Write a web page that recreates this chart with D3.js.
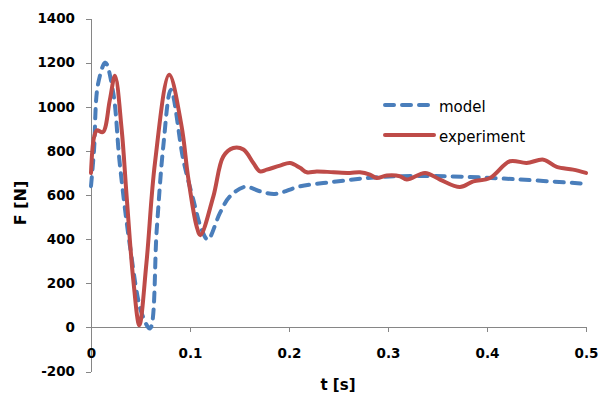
<!DOCTYPE html>
<html>
<head>
<meta charset="utf-8">
<script src="https://cdn.jsdelivr.net/npm/d3@7"></script>
<style>
  html, body { margin: 0; padding: 0; background: #fff; }
  svg { display: block; }
  .axis path, .axis line { stroke: #868686; stroke-width: 1; shape-rendering: crispEdges; }
  .axis text { font-family: "DejaVu Sans", sans-serif; font-weight: bold; font-size: 13.5px; fill: #000; }
</style>
</head>
<body>
<svg id="chart" width="599" height="397"></svg>
<script>
// Force response: simulated model vs measured experiment
const modelT = [0, 0.003, 0.007, 0.0145, 0.0225, 0.029, 0.0394, 0.051, 0.0596, 0.0664, 0.073, 0.0807,
  0.0932, 0.1033, 0.1118, 0.118, 0.1303, 0.1404, 0.1556, 0.1707, 0.1859, 0.2111, 0.2444, 0.2788,
  0.3091, 0.3596, 0.4263, 0.5];
const modelF = [640, 800, 1100, 1200, 1062, 745, 367, 67, -5, 443, 820, 1077,
  760, 579, 443, 398, 519, 594, 637, 617, 605, 639, 659, 677,
  685, 685, 672, 651];

const expT = [0, 0.003, 0.006, 0.012, 0.019, 0.0242, 0.031, 0.036, 0.0427, 0.0488, 0.056, 0.0646,
  0.079, 0.0915, 0.098, 0.1067, 0.1105, 0.1236, 0.1337, 0.1437, 0.154, 0.164, 0.1707, 0.1775,
  0.1909, 0.201, 0.2111, 0.218, 0.228, 0.245, 0.2616, 0.2717, 0.2818, 0.2886, 0.2987, 0.312,
  0.319, 0.3374, 0.3525, 0.3727, 0.3862, 0.403, 0.4232, 0.44, 0.457, 0.4704, 0.487, 0.5];
const expF = [700, 860, 893, 885, 1030, 1140, 896, 594, 216, 10, 292, 745,
  1145, 911, 684, 458, 418, 594, 775, 813, 806, 745, 707, 715,
  733, 745, 723, 703, 707, 703, 700, 703, 692, 677, 688, 685,
  670, 700, 670, 636, 662, 677, 753, 745, 760, 727, 715, 700];

const xTicks = [0, 0.1, 0.2, 0.3, 0.4, 0.5];
const yTicks = [-200, 0, 200, 400, 600, 800, 1000, 1200, 1400];
const seriesNames = ["model", "experiment"];
const seriesColors = ["#4a7ebb", "#be4b48"];

const svg = d3.select("#chart");

const x = d3.scaleLinear().domain([0, 0.5]).range([91, 586]);
const y = d3.scaleLinear().domain([-200, 1400]).range([371.5, 18.5]);

// Y axis (plain hyphen for negative labels)
svg.append("g")
  .attr("class", "axis")
  .attr("transform", `translate(${x(0)},0)`)
  .call(d3.axisLeft(y).tickValues(yTicks).tickSize(5).tickSizeOuter(0).tickPadding(11)
    .tickFormat(d => String(d)));

// X axis along F = 0
svg.append("g")
  .attr("class", "axis")
  .attr("transform", `translate(0,${y(0)})`)
  .call(d3.axisBottom(x).tickValues(xTicks).tickSize(5).tickSizeOuter(0).tickPadding(16)
    .tickFormat(d => d === 0 ? "0" : d3.format(".1f")(d)));

// Axis titles
svg.append("text")
  .attr("x", 338).attr("y", 390)
  .attr("text-anchor", "middle")
  .style("font-family", "DejaVu Sans, sans-serif")
  .style("font-weight", "bold")
  .style("font-size", "15px")
  .text("t [s]");

svg.append("text")
  .attr("transform", "translate(26,203) rotate(-90)")
  .attr("text-anchor", "middle")
  .style("font-family", "DejaVu Sans, sans-serif")
  .style("font-weight", "bold")
  .style("font-size", "16px")
  .text("F [N]");

const line = d3.line()
  .x(d => x(d[0]))
  .y(d => y(d[1]))
  .curve(d3.curveCatmullRom.alpha(0.5));

const modelData = modelT.map((t, i) => [t, modelF[i]]);
const expData = expT.map((t, i) => [t, expF[i]]);

// Model (dashed)
svg.append("path")
  .datum(modelData)
  .attr("d", line)
  .attr("fill", "none")
  .attr("stroke", seriesColors[0])
  .attr("stroke-width", 4)
  .attr("stroke-dasharray", "9,8")
  .attr("stroke-linecap", "round");

// Experiment (solid)
svg.append("path")
  .datum(expData)
  .attr("d", line)
  .attr("fill", "none")
  .attr("stroke", seriesColors[1])
  .attr("stroke-width", 4)
  .attr("stroke-linejoin", "round")
  .attr("stroke-linecap", "round");

// Legend
const legend = svg.append("g");
const legendRows = [
  { name: seriesNames[0], color: seriesColors[0], dash: "9,8", ly: 105, ty: 111.5, x2: 430 },
  { name: seriesNames[1], color: seriesColors[1], dash: null, ly: 135, ty: 141.5, x2: 434 }
];
legendRows.forEach(r => {
  legend.append("line")
    .attr("x1", 385).attr("x2", r.x2)
    .attr("y1", r.ly).attr("y2", r.ly)
    .attr("stroke", r.color)
    .attr("stroke-width", 4)
    .attr("stroke-linecap", "round")
    .attr("stroke-dasharray", r.dash);
  legend.append("text")
    .attr("x", 439).attr("y", r.ty)
    .style("font-family", "DejaVu Sans, sans-serif")
    .style("font-size", "15px")
    .style("fill", "#000")
    .text(r.name);
});
</script>
</body>
</html>
